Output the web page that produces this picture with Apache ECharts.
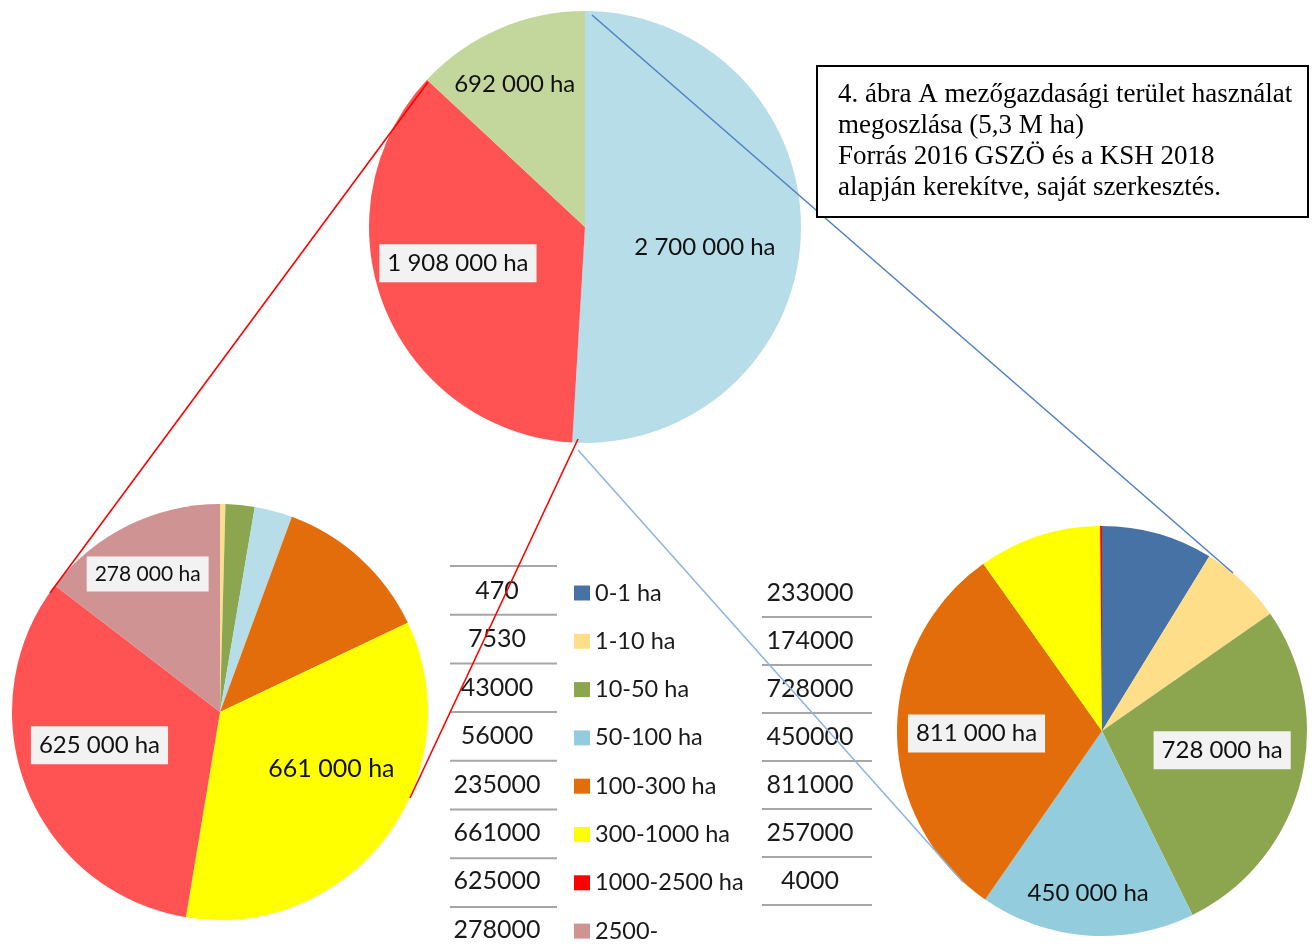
<!DOCTYPE html>
<html><head><meta charset="utf-8">
<script src="https://cdn.jsdelivr.net/npm/echarts@6/dist/echarts.min.js"></script>
<style>html,body{margin:0;padding:0;background:#fff}#c{width:1313px;height:952px}</style>
</head><body><div id="c"></div>
<script>
// ---------- data ----------
const categories = ['0-1 ha','1-10 ha','10-50 ha','50-100 ha','100-300 ha','300-1000 ha','1000-2500 ha','2500-'];
const leftValues = [470, 7530, 43000, 56000, 235000, 661000, 625000, 278000];
const rightValues = [233000, 174000, 728000, 450000, 811000, 257000, 4000];
const topNames = ['Terület A', 'Terület B', 'Terület C'];
const topValues = [2700000, 1908000, 692000];
const leftTableLabels = ['470','7530','43000','56000','235000','661000','625000','278000'];
const rightTableLabels = ['233000','174000','728000','450000','811000','257000','4000'];
const captionLines = [
  '4. ábra A mezőgazdasági terület használat',
  'megoszlása (5,3 M ha)',
  'Forrás 2016 GSZÖ és a KSH 2018',
  'alapján kerekítve, saját szerkesztés.'
];

// ---------- styles ----------
const categoryColors = ['#4672a5','#ffde89','#8ba64e','#93cddd','#e36c0b','#ffff00','#ff0000','#d09393'];
const leftColors = ['#4672a5','#ffde89','#8ba64e','#b7dde8','#e36c0b','#ffff00','#ff5353','#d09393'];
const topColors = ['#b7dde8','#ff5353','#c3d69b'];
const FONT = 'Lato';
const BG = '#f2f2f2';

const topLabelCfg = {0:{offset:[9,17]},1:{offset:[-24,-5],bg:true},2:{offset:[-26,-41]}};
const leftLabelCfg = {5:{offset:[26,-7],size:25},6:{offset:[-21,-6],bg:true},7:{offset:[-25,-42],bg:true,size:21}};
const rightLabelCfg = {2:{offset:[18,-7],bg:true},3:{offset:[-6,57]},4:{offset:[-20,2],bg:true}};

function fmt(v){ return String(v).replace(/\B(?=(\d{3})+(?!\d))/g, ' ') + ' ha'; }

function buildData(names, values, colors, cfg){
  return values.map((v,i)=>{
    const c = cfg[i];
    const item = {name:names[i], value:v, itemStyle:{color:colors[i]}};
    if(c){
      item.label = {show:true, position:'inside', offset:c.offset, formatter:p=>fmt(p.value),
        fontFamily:FONT, fontSize:c.size||24, color:'#111',
        backgroundColor:c.bg?BG:'transparent', padding:c.bg?[7,8,7,8]:0};
    } else {
      item.label = {show:false};
    }
    return item;
  });
}

function pie(center, r, data){
  return {type:'pie', center:center, radius:r, startAngle:90, clockwise:true,
    avoidLabelOverlap:false, silent:true, animation:false, minAngle:0,
    label:{show:false}, labelLine:{show:false}, itemStyle:{borderWidth:0}, data:data};
}

const graphics = [];
// connector lines
graphics.push({type:'line', shape:{x1:428,y1:82,x2:50,y2:593}, style:{stroke:'#ff0000', lineWidth:1.6}, z:10});
graphics.push({type:'line', shape:{x1:578,y1:439,x2:410,y2:798}, style:{stroke:'#ff0000', lineWidth:1.6}, z:10});
graphics.push({type:'line', shape:{x1:592,y1:15,x2:1233,y2:573}, style:{stroke:'#4f81c4', lineWidth:1.5}, z:10});
graphics.push({type:'line', shape:{x1:578,y1:450,x2:963,y2:882}, style:{stroke:'#8db3e2', lineWidth:1.5}, z:10});
// table left
leftTableLabels.forEach((t,i)=>{
  graphics.push({type:'line', shape:{x1:450,y1:566+48.7*i,x2:557,y2:566+48.7*i}, style:{stroke:'#a6a6a6',lineWidth:2}});
  graphics.push({type:'text', x:497, y:591+48.4*i, style:{text:t, font:'25px '+FONT, fill:'#1a1a1a', align:'center', verticalAlign:'middle'}});
});
rightTableLabels.forEach((t,i)=>{
  graphics.push({type:'line', shape:{x1:762,y1:617+48*i,x2:872,y2:617+48*i}, style:{stroke:'#a6a6a6',lineWidth:2}});
  graphics.push({type:'text', x:810, y:593+48*i, style:{text:t, font:'25px '+FONT, fill:'#1a1a1a', align:'center', verticalAlign:'middle'}});
});
// caption box
graphics.push({type:'rect', shape:{x:817,y:66,width:491,height:151}, style:{fill:'#fff', stroke:'#000', lineWidth:2}, z:20});
graphics.push({type:'text', x:838, y:79, z:21, style:{text:captionLines.join('\n'), font:'27px "Liberation Serif"', lineHeight:31, fill:'#000', align:'left', verticalAlign:'top'}});

const chart = echarts.init(document.getElementById('c'), null, {renderer:'canvas'});
chart.setOption({
  backgroundColor:'#ffffff',
  animation:false,
  legend:{orient:'vertical', left:574, top:581, padding:0, height:400, itemWidth:16, itemHeight:15, itemGap:24.3, icon:'rect',
    selectedMode:false, textStyle:{fontFamily:FONT, fontSize:23.5, color:'#1a1a1a'},
    data:categories.map((n,i)=>({name:n, itemStyle:{color:categoryColors[i]}}))},
  series:[
    pie([585,227], 216, buildData(topNames, topValues, topColors, topLabelCfg)),
    pie([220,712], 208, buildData(categories, leftValues, leftColors, leftLabelCfg)),
    pie([1102,731], 205, buildData(categories, rightValues, categoryColors, rightLabelCfg))
  ],
  graphic:graphics
});
</script></body></html>
